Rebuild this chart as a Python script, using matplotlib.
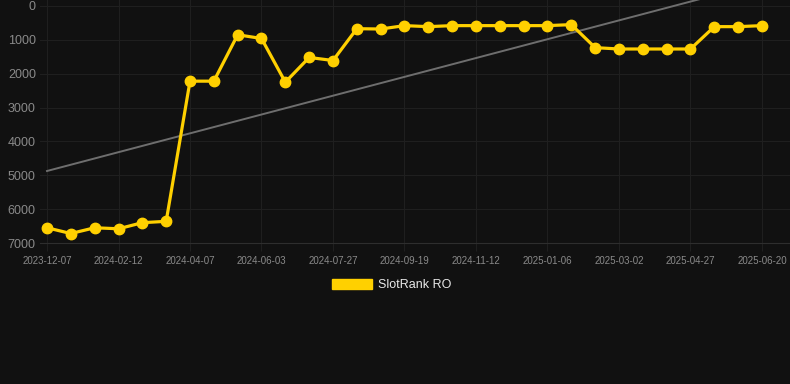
import numpy as np
import matplotlib
matplotlib.use("Agg")
from matplotlib import pyplot as plt
from matplotlib.patches import Patch

dates = [
    "2023-12-07", "2023-12-29", "2024-01-20", "2024-02-12", "2024-03-01",
    "2024-03-19", "2024-04-07", "2024-04-26", "2024-05-15", "2024-06-03",
    "2024-06-21", "2024-07-09", "2024-07-27", "2024-08-14", "2024-09-01",
    "2024-09-19", "2024-10-07", "2024-10-25", "2024-11-12", "2024-11-30",
    "2024-12-18", "2025-01-06", "2025-01-24", "2025-02-11", "2025-03-02",
    "2025-03-21", "2025-04-08", "2025-04-27", "2025-05-15", "2025-06-02",
    "2025-06-20",
]
rank = [
    6550, 6720, 6550, 6580, 6400, 6360, 2220, 2220, 850, 960,
    2250, 1520, 1610, 670, 680, 580, 610, 580, 580, 580,
    580, 580, 550, 1230, 1270, 1270, 1270, 1270, 610, 610,
    580,
]
series_name = "SlotRank RO"
yticks = [0, 1000, 2000, 3000, 4000, 5000, 6000, 7000]

bg = "#111111"
yellow = "#FFD000"
grid = "#1f1f1f"

plt.rcParams["font.family"] = ["Liberation Sans", "DejaVu Sans"]

fig = plt.figure(figsize=(7.9, 3.84), dpi=100, facecolor=bg)
ax = fig.add_axes([40 / 790, 1 - 243 / 384, 750 / 790, 243 / 384])
ax.set_facecolor(bg)

x = np.arange(len(dates))
# linear trend of the rank series
k, b = np.polyfit(x, rank, 1)
ax.plot(x, k * x + b, color="#6e6e6e", lw=1.4, zorder=2)
ax.plot(x, rank, color=yellow, lw=2.3, marker="o", ms=7.5, zorder=3)

ax.set_xlim(-7 / 23.83, 30 + 28 / 23.83)
ax.set_ylim(7000, -177)
ax.set_yticks(yticks)
ax.set_yticklabels([str(v) for v in yticks])
ax.set_xticks(x[::3])
ax.set_xticklabels([dates[i] for i in x[::3]])

ax.grid(True, color=grid, lw=0.8)
ax.set_axisbelow(True)
for s in ["top", "right", "left"]:
    ax.spines[s].set_visible(False)
ax.spines["bottom"].set_color("#2e2e2e")
ax.tick_params(axis="y", length=0, pad=3, labelsize=9, labelcolor="#8a8a8a")
ax.tick_params(axis="x", length=6, color=grid, pad=3, labelsize=7, labelcolor="#8a8a8a")

fig.legend(handles=[Patch(color=yellow, label=series_name)],
           loc="center", bbox_to_anchor=(392 / 790, 1 - 285 / 384),
           frameon=False, fontsize=9, labelcolor="#e8e8e8",
           handlelength=3.2, handleheight=0.9, handletextpad=0.5)

fig.savefig("out.png", dpi=100, facecolor=bg)
